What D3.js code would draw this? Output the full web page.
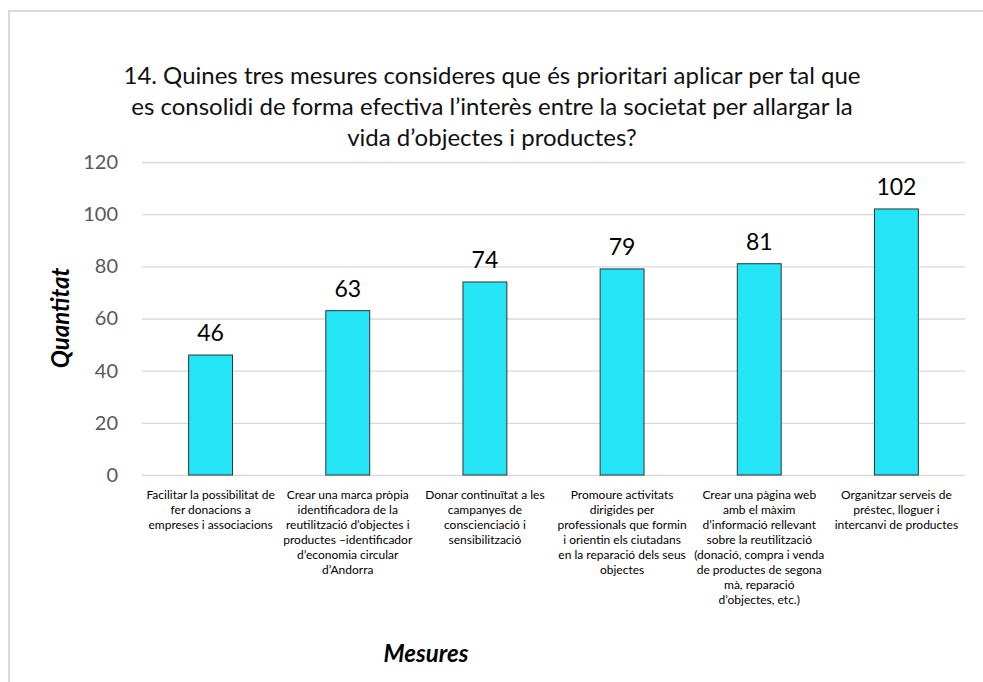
<!DOCTYPE html>
<html>
<head>
<meta charset="utf-8">
<script src="https://cdn.jsdelivr.net/npm/d3@7"></script>
<style>
  html, body { margin: 0; padding: 0; background: #fff; }
  text { font-family: Lato, "Open Sans", sans-serif; }
</style>
</head>
<body>
<div id="chart"></div>
<script>
// values
const categories = [
  ['Facilitar la possibilitat de', 'fer donacions a', 'empreses i associacions'],
  ['Crear una marca pròpia', 'identificadora de la', 'reutilització d\u2019objectes i', 'productes \u2013identificador', 'd\u2019economia circular', 'd\u2019Andorra'],
  ['Donar continuïtat a les', 'campanyes de', 'conscienciació i', 'sensibilització'],
  ['Promoure activitats', 'dirigides per', 'professionals que formin', 'i orientin els ciutadans', 'en la reparació dels seus', 'objectes'],
  ['Crear una pàgina web', 'amb el màxim', 'd\u2019informació rellevant', 'sobre la reutilització', '(donació, compra i venda', 'de productes de segona', 'mà, reparació', 'd\u2019objectes, etc.)'],
  ['Organitzar serveis de', 'préstec, lloguer i', 'intercanvi de productes']
];
const values = [46, 63, 74, 79, 81, 102];
const yTicks = [0, 20, 40, 60, 80, 100, 120];
const titleLines = [
  '14. Quines tres mesures consideres que és prioritari aplicar per tal que',
  'es consolidi de forma efectiva l\u2019interès entre la societat per allargar la',
  'vida d\u2019objectes i productes?'
];

const W = 983, H = 682;
const svg = d3.select('#chart').append('svg')
    .attr('width', W)
    .attr('height', H);

// chart frame (runs off the right and bottom edges)
svg.append('rect')
    .attr('x', 9).attr('y', 11)
    .attr('width', 990).attr('height', 700)
    .attr('fill', '#fff')
    .attr('stroke', '#d9d9d9')
    .attr('stroke-width', 2);

const x = d3.scaleBand()
    .domain(d3.range(categories.length))
    .range([142, 965])
    .paddingInner(0.68)
    .paddingOuter(0.34);

const y = d3.scaleLinear()
    .domain([0, 120])
    .range([475, 162]);

// gridlines
svg.append('g')
    .attr('transform', 'translate(142,0)')
    .call(d3.axisLeft(y).tickValues(yTicks).tickSize(-823).tickFormat(''))
    .call(g => g.select('.domain').remove())
    .call(g => g.selectAll('line').attr('stroke', '#d9d9d9').attr('stroke-width', 1.3));

// y tick labels
svg.append('g')
    .attr('transform', 'translate(142,0)')
    .call(d3.axisLeft(y).tickValues(yTicks).tickSize(0).tickPadding(24))
    .call(g => g.select('.domain').remove())
    .call(g => g.selectAll('text')
        .attr('font-family', 'Lato, sans-serif')
        .attr('font-size', 20)
        .attr('fill', '#595959'));

// bars
svg.append('g')
  .selectAll('rect')
  .data(values)
  .join('rect')
    .attr('x', (d, i) => x(i))
    .attr('y', d => y(d))
    .attr('width', x.bandwidth())
    .attr('height', d => y(0) - y(d))
    .attr('fill', '#23e5f5')
    .attr('stroke', '#333')
    .attr('stroke-width', 1);

// data labels
svg.append('g')
  .selectAll('text')
  .data(values)
  .join('text')
    .attr('x', (d, i) => x(i) + x.bandwidth() / 2)
    .attr('y', d => y(d) - 14)
    .attr('text-anchor', 'middle')
    .attr('font-size', 23)
    .attr('fill', '#000')
    .text(d => d);

// category labels
const cat = svg.append('g')
  .selectAll('text')
  .data(categories)
  .join('text')
    .attr('text-anchor', 'middle')
    .attr('font-size', 12)
    .attr('fill', '#000');
cat.selectAll('tspan')
  .data((d, i) => d.map(line => ({ line, i })))
  .join('tspan')
    .attr('x', d => x(d.i) + x.bandwidth() / 2)
    .attr('y', (d, j) => 499 + j * 15)
    .text(d => d.line);

// title
svg.append('g')
  .selectAll('text')
  .data(titleLines)
  .join('text')
    .attr('x', 492)
    .attr('y', (d, i) => 84 + i * 31)
    .attr('text-anchor', 'middle')
    .attr('font-size', 24)
    .attr('fill', '#111')
    .text(d => d);

// axis titles
svg.append('text')
    .attr('transform', 'translate(69,318) rotate(-90)')
    .attr('text-anchor', 'middle')
    .attr('font-size', 24)
    .attr('font-weight', 'bold')
    .attr('font-style', 'italic')
    .text('Quantitat');

svg.append('text')
    .attr('x', 426)
    .attr('y', 662)
    .attr('text-anchor', 'middle')
    .attr('font-size', 24)
    .attr('font-weight', 'bold')
    .attr('font-style', 'italic')
    .text('Mesures');
</script>
</body>
</html>
